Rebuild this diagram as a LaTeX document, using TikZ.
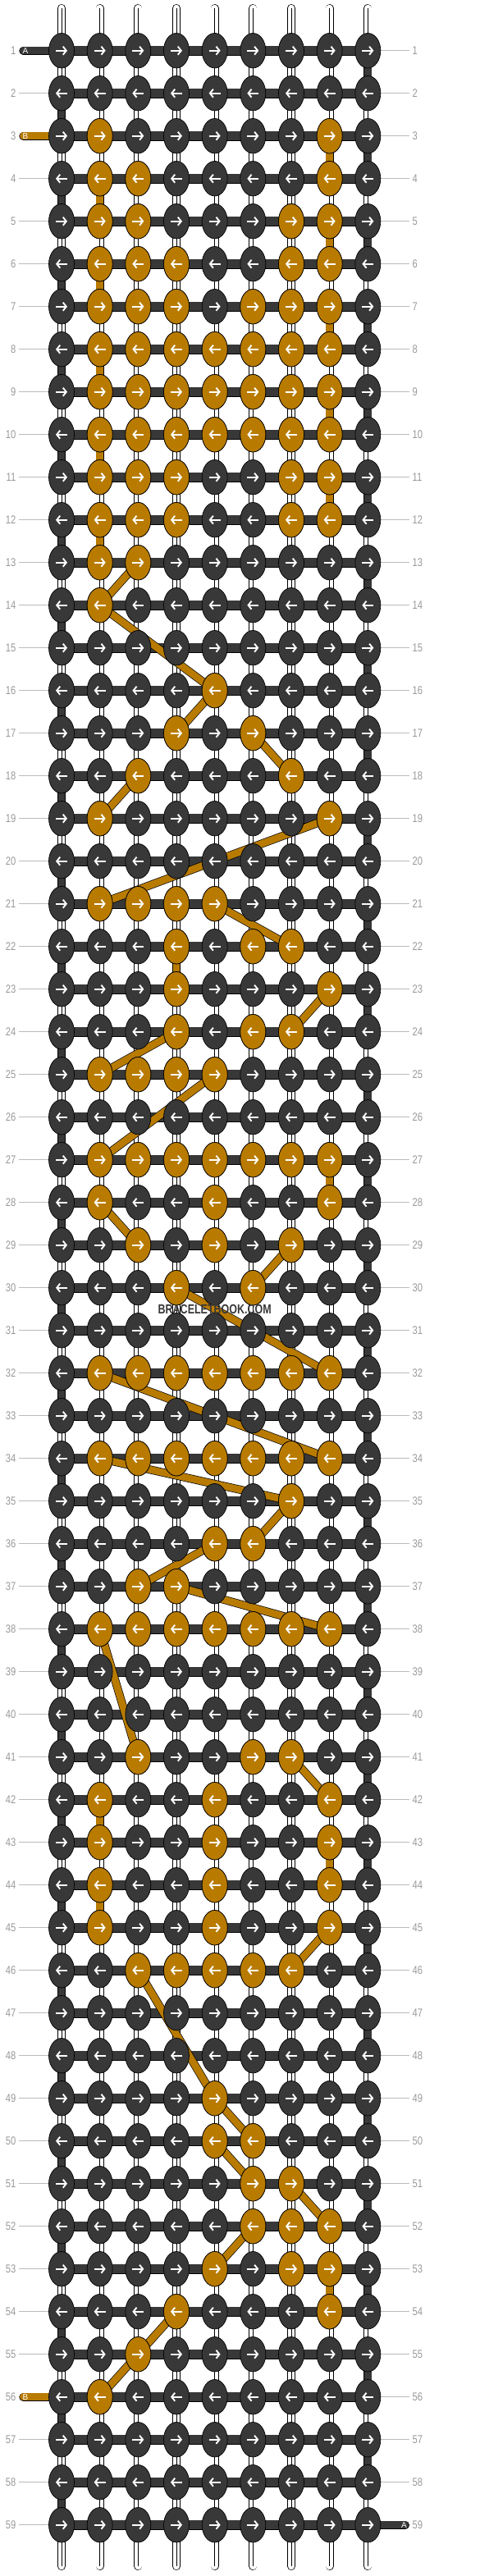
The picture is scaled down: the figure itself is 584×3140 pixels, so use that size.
\documentclass[tikz,border=0pt]{standalone}
\usepackage{fontspec}
\setmainfont{Liberation Sans}
\usetikzlibrary{arrows.meta,shapes.geometric}

\definecolor{knotdark}{HTML}{383838}
\definecolor{knotgold}{HTML}{B87B00}
\definecolor{tickgray}{HTML}{BBBBBB}
\definecolor{numgray}{HTML}{999999}

\begin{document}
\begin{tikzpicture}[
  x=1pt, y=-1pt,
  knot/.style={draw=black, line width=0.7pt, ellipse, fill=knotdark,
    minimum width=31pt, minimum height=42.5pt, inner sep=0pt},
  gold/.style={fill=knotgold},
  thread/.style={draw=black, line width=0.7pt, double distance=8.6pt},
  tie/.style={thread, double=#1},
  stub/.style={thread, double=#1, line cap=round},
  basestring/.style={thread, double=white, line cap=round},
  bar/.style={draw=black, line width=0.7pt, double=knotdark, double distance=10.6pt},
  arrowline/.style={white, line width=1.9pt, -{Straight Barb[length=4pt,width=10pt]}},
  rownum/.style={text=numgray, font=\fontsize{14}{14}\selectfont, xscale=0.8, inner sep=0pt},
  tick/.style={tickgray, line width=0.8pt},
  letter/.style={text=white, font=\fontsize{10}{10}\selectfont, inner sep=0pt}
  ]
\useasboundingbox (0,0) rectangle (584,3140);

% grid of knot positions
\foreach \r in {1,...,59}
  \foreach \c in {1,...,9}
    \coordinate (p-\r-\c) at ({75+(\c-1)*46.667},{61.7+(\r-1)*52});
\foreach \c in {1,...,9} {
  \coordinate (top-\c) at ({75+(\c-1)*46.667},10);
  \coordinate (bot-\c) at ({75+(\c-1)*46.667},3128);
}
\coordinate (in-a) at (28.3,61.7);
\coordinate (in-b) at (28.3,165.7);
\coordinate (out-b) at (28.3,2921.7);
\coordinate (out-a) at (494,3077.7);

% row numbers
\foreach \r in {1,...,59} {
  \node[rownum, anchor=east] (ln-\r) at (19.5,{61.7+(\r-1)*52}) {\r};
  \node[rownum, anchor=west] (rn-\r) at (502.5,{61.7+(\r-1)*52}) {\r};
  \draw[tick] ([xshift=3.5pt]ln-\r.east) -- (p-\r-1);
  \draw[tick] (p-\r-9) -- ([xshift=-3.5pt]rn-\r.west);
}

% base strings
\foreach \c in {1,...,9} {
  \draw[basestring] (top-\c) -- (bot-\c);
  \draw[line width=0.6pt] (top-\c) -- (bot-\c);
}

% turns at the edges
\foreach \r in {2,4,...,58} {
  \pgfmathtruncatemacro\n{\r+1}
  \draw[tie=knotdark] (p-\r-1) -- (p-\n-1);
}
\foreach \r in {1,3,...,57} {
  \pgfmathtruncatemacro\n{\r+1}
  \draw[tie=knotdark] (p-\r-9) -- (p-\n-9);
}
% gold drops
\foreach \c/\r in {2/4,2/6,2/8,2/10,2/12,2/42,2/44,
                   8/3,8/5,8/7,8/9,8/11,8/27,8/43,8/53,4/22} {
  \pgfmathtruncatemacro\n{\r+1}
  \draw[tie=knotgold] (p-\r-\c) -- (p-\n-\c);
}

% rows
\foreach \r in {1,...,59}
  \draw[bar] (p-\r-1) -- (p-\r-9);

% loose ends
\draw[stub=knotdark] (in-a) -- (p-1-1);
\draw[stub=knotgold] (in-b) -- (p-3-1);
\draw[stub=knotgold] (out-b) -- (p-56-1);
\draw[stub=knotdark] (p-59-9) -- (out-a);
\node[letter] (lab-a) at (31,61.7) {A};
\node[letter] (lab-b) at (31,165.7) {B};
\node[letter] (lab-bb) at (31,2921.7) {B};
\node[letter] (lab-aa) at (492.5,3077.7) {A};

% hidden gold threads
\foreach \ra/\ca/\rb/\cb in {13/3/14/2, 14/2/16/5, 16/5/17/4, 17/6/18/7,
    18/3/19/2, 19/8/21/2, 21/5/22/7, 23/8/24/7, 24/4/25/2, 25/5/27/2,
    28/2/29/3, 29/7/30/6, 30/4/32/8, 32/2/34/8, 34/2/35/7, 35/7/36/6,
    36/5/37/3, 37/4/38/8, 38/2/41/3, 41/7/42/8, 45/8/46/7, 46/3/49/5,
    49/5/50/6, 50/5/51/6, 51/7/52/8, 52/6/53/5, 54/4/56/2}
  \draw[tie=knotgold] (p-\ra-\ca) -- (p-\rb-\cb);

% knots
\foreach \r in {1,...,59}
  \foreach \c in {1,...,9}
    \node[knot] (k-\r-\c) at (p-\r-\c) {};
\foreach \r/\cols in {3/{2,8}, 4/{2,3,8}, 5/{2,3,7,8}, 6/{2,3,4,7,8},
    7/{2,3,4,6,7,8}, 8/{2,...,8}, 9/{2,...,8}, 10/{2,...,8},
    11/{2,3,4,7,8}, 12/{2,3,4,7,8}, 13/{2,3}, 14/{2}, 16/{5}, 17/{4,6},
    18/{3,7}, 19/{2,8}, 21/{2,3,4,5}, 22/{4,6,7}, 23/{4,8}, 24/{4,6,7},
    25/{2,3,4,5}, 27/{2,...,8}, 28/{2,5,8}, 29/{3,5,7}, 30/{4,6},
    32/{2,...,8}, 34/{2,...,8}, 35/{7}, 36/{5,6}, 37/{3,4}, 38/{2,...,8},
    41/{3,6,7}, 42/{2,5,8}, 43/{2,5,8}, 44/{2,5,8}, 45/{2,5,8},
    46/{3,4,5,6,7}, 49/{5}, 50/{5,6}, 51/{6,7}, 52/{6,7,8}, 53/{5,7,8},
    54/{4,8}, 55/{3}, 56/{2}}
  \foreach \c in \cols
    \node[knot, gold] (g-\r-\c) at (p-\r-\c) {};

% knot directions
\foreach \r in {1,3,...,59}
  \foreach \c in {1,...,9}
    \draw[arrowline] ([xshift=-7pt]p-\r-\c) -- ([xshift=7pt]p-\r-\c);
\foreach \r in {2,4,...,58}
  \foreach \c in {1,...,9}
    \draw[arrowline] ([xshift=7pt]p-\r-\c) -- ([xshift=-7pt]p-\r-\c);

\node[text=knotdark, font=\bfseries\fontsize{16}{16}\selectfont, xscale=0.78,
  inner sep=0pt] (mark) at (261.7,1596) {BRACELETBOOK.COM};
\end{tikzpicture}
\end{document}
